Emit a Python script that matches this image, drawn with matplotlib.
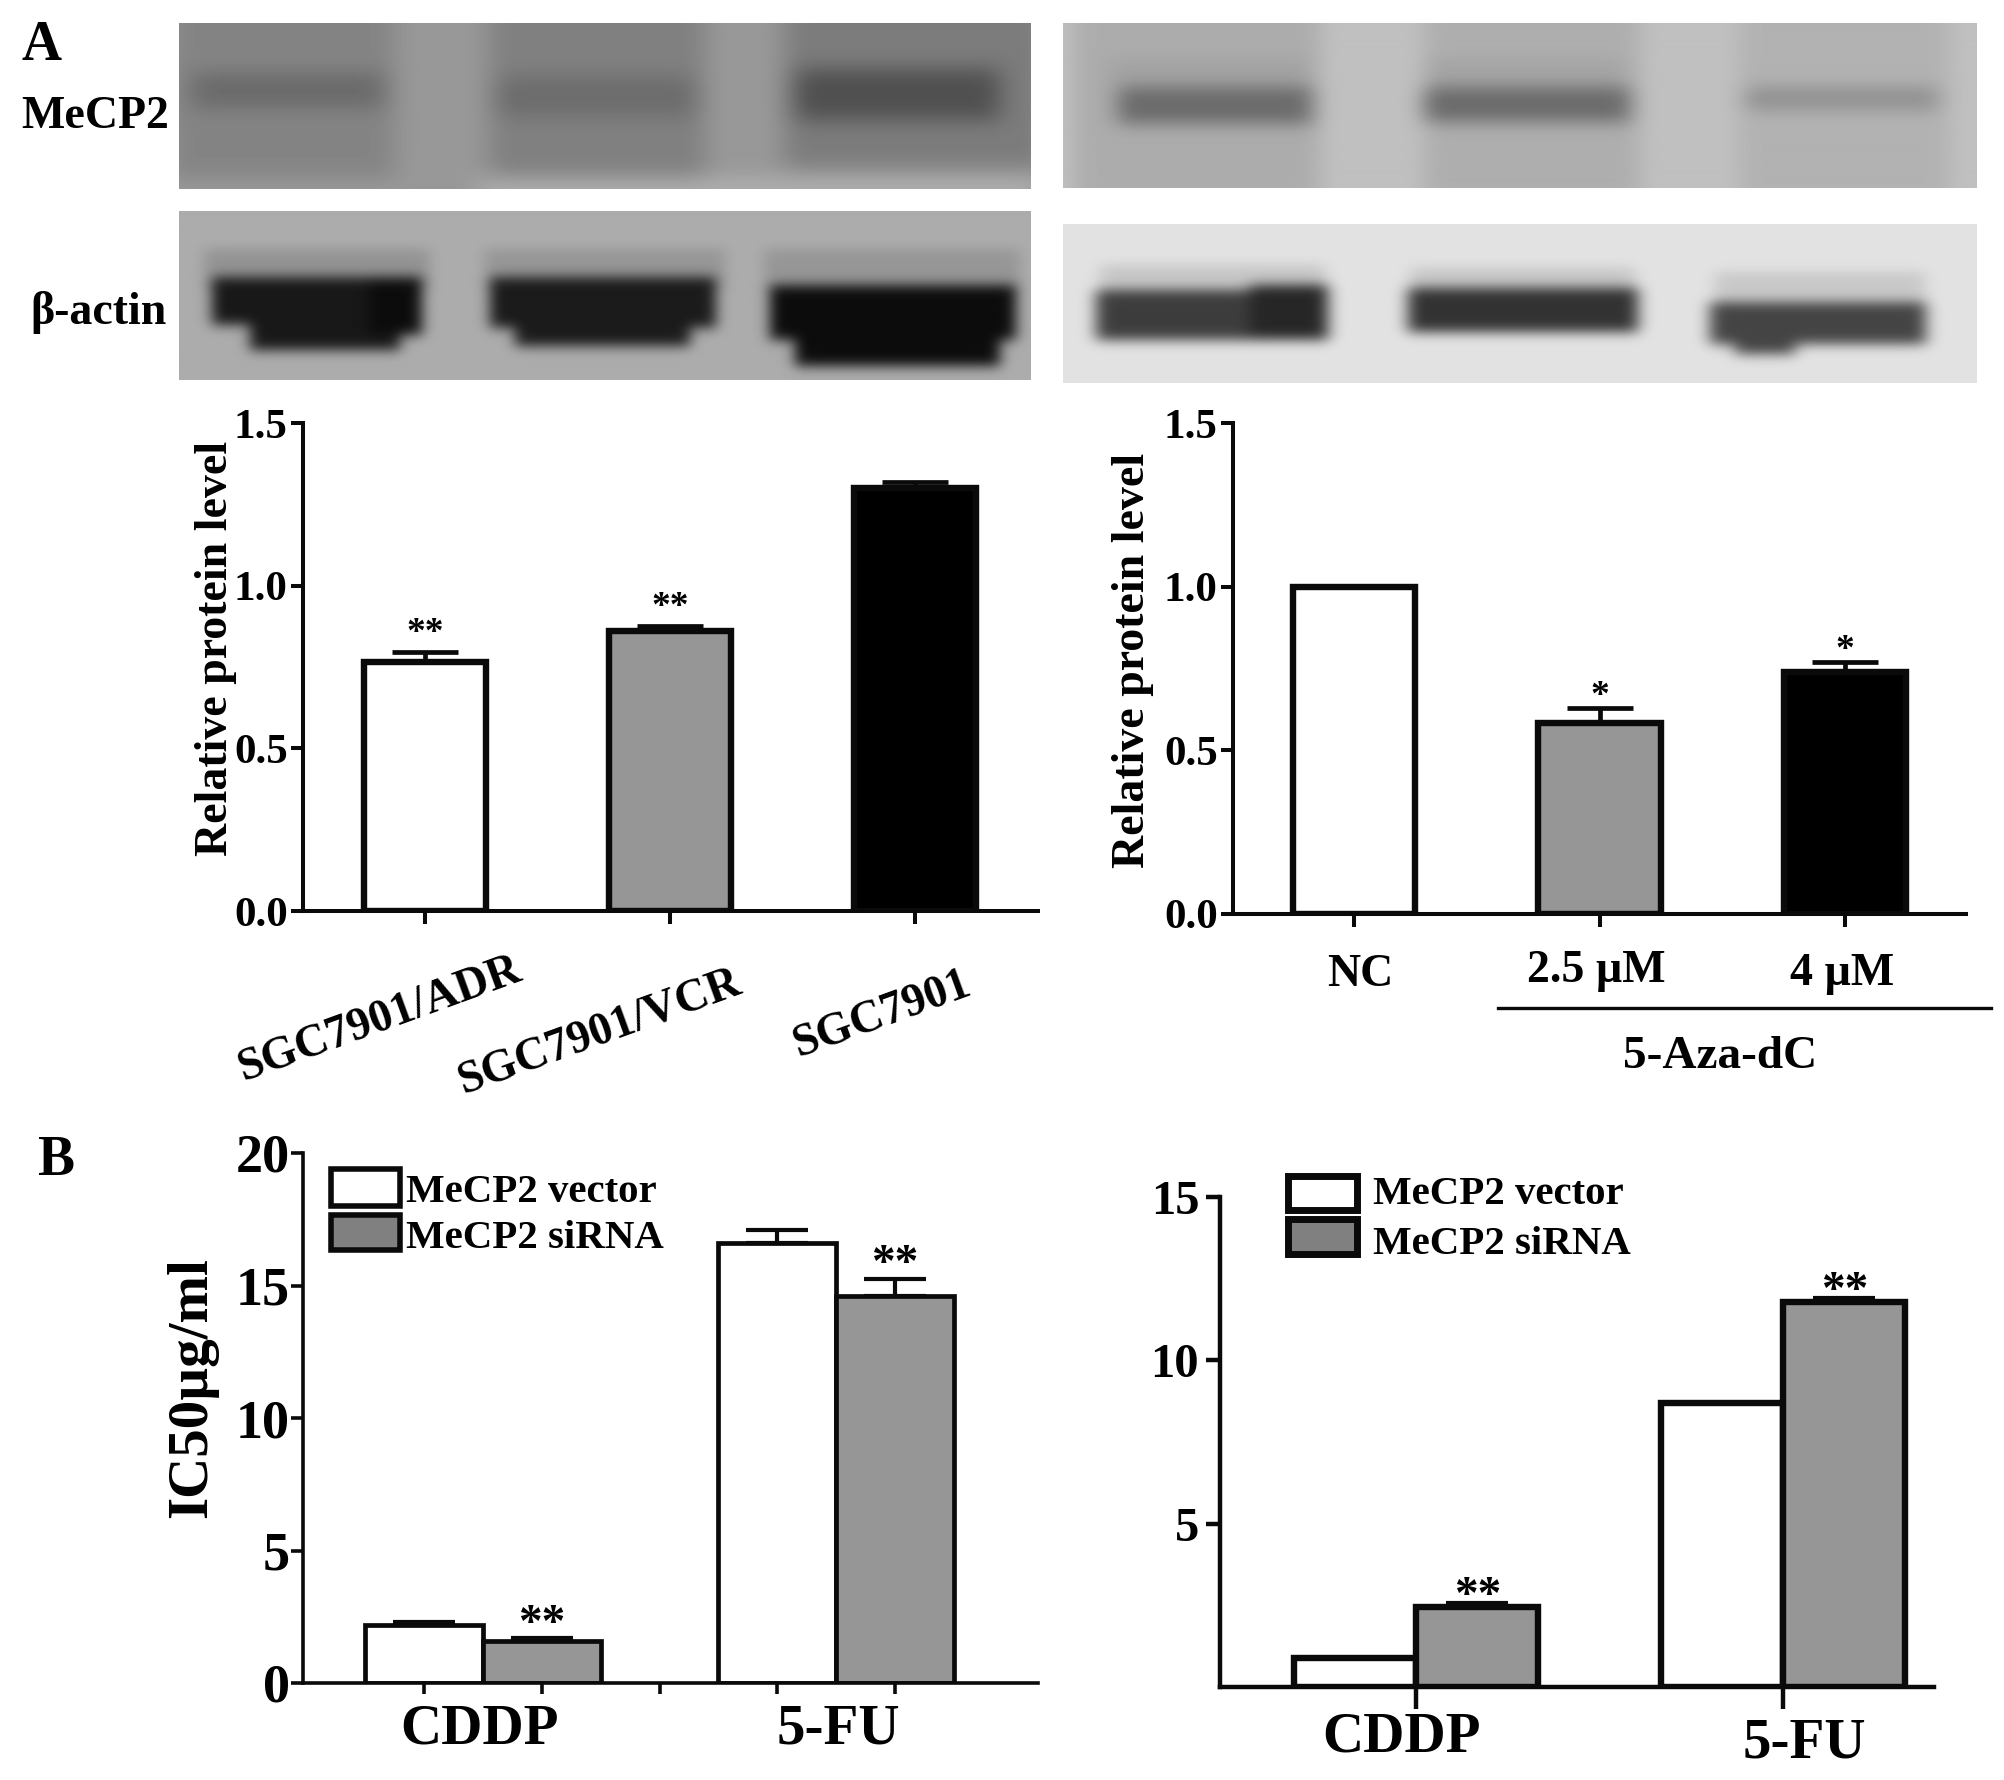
import numpy as np
import matplotlib
matplotlib.use('Agg')
import matplotlib.pyplot as plt
from matplotlib.patches import Rectangle

plt.rcParams['font.family'] = ['Liberation Serif', 'DejaVu Sans']
plt.rcParams['font.weight'] = 'bold'

W, H = 2004, 1780

# panel A
cells = ['SGC7901/ADR', 'SGC7901/VCR', 'SGC7901']
cell_level = [0.765, 0.86, 1.30]
cell_err = [0.03, 0.015, 0.02]
cell_stars = ['**', '**', '']

doses = ['NC', '2.5 µM', '4 µM']
dose_level = [1.0, 0.585, 0.74]
dose_err = [0.0, 0.045, 0.03]
dose_stars = ['', '*', '*']

# panel B
drugs = ['CDDP', '5-FU']
left_vector = [2.2, 16.6]
left_vector_err = [0.1, 0.5]
left_sirna = [1.6, 14.6]
left_sirna_err = [0.08, 0.65]
right_vector = [0.9, 8.7]
right_sirna = [2.45, 11.8]
right_sirna_err = [0.12, 0.1]

# blots: background grey, then (x0, x1, y0, y1, darkness) for the smears and bands in pixels
mecp2_left_bg = 152
mecp2_left_lanes = [(170, 395, 0, 178, 20), (490, 705, 0, 178, 24), (785, 1045, 0, 168, 28), (480, 1040, 178, 200, -25)]
mecp2_left_bands = [(192, 385, 74, 108, 46), (498, 695, 78, 116, 44), (795, 1000, 70, 120, 72)]
actin_left_bg = 172
actin_left_lanes = [(205, 430, 250, 290, 25), (485, 725, 250, 290, 22), (765, 1020, 250, 295, 22)]
actin_left_bands = [(212, 422, 278, 325, 148), (250, 400, 320, 350, 148), (370, 422, 278, 335, 160),
                    (490, 716, 278, 328, 145), (515, 690, 320, 346, 145),
                    (770, 1016, 286, 340, 160), (795, 1000, 335, 366, 160)]
mecp2_right_bg = 192
mecp2_right_lanes = [(1075, 1320, 0, 200, 20), (1425, 1640, 0, 200, 18), (1740, 1950, 0, 200, 14),
                     (1110, 1310, 60, 90, 30), (1425, 1625, 60, 90, 28)]
mecp2_right_bands = [(1118, 1312, 88, 124, 85), (1424, 1630, 88, 122, 85), (1746, 1938, 88, 110, 48)]
actin_right_bg = 226
actin_right_lanes = [(1100, 1325, 265, 295, 28), (1410, 1635, 268, 295, 28), (1715, 1925, 272, 300, 26)]
actin_right_bands = [(1096, 1328, 290, 340, 165), (1250, 1328, 285, 338, 188),
                     (1408, 1638, 288, 332, 176), (1710, 1926, 302, 344, 158), (1735, 1795, 330, 354, 158)]

GREY = '#969696'
BLACK = '#0a0a0a'

fig = plt.figure(figsize=(W / 100, H / 100), dpi=100)


def px_axes(x0, x1, ybot, ytop):
    return fig.add_axes([x0 / W, 1 - ybot / H, (x1 - x0) / W, (ybot - ytop) / H])


def soften(img, sx, sy):
    kx = np.exp(-0.5 * (np.arange(-30, 31) / sx) ** 2)
    ky = np.exp(-0.5 * (np.arange(-30, 31) / sy) ** 2)
    out = np.apply_along_axis(lambda r: np.convolve(r, kx / kx.sum(), mode='same'), 1, img)
    return np.apply_along_axis(lambda c: np.convolve(c, ky / ky.sum(), mode='same'), 0, out)


def blot(x0, x1, y0, y1, bg, lanes, bands, soft):
    # work on a padded grid so the blur has no edge effects, then crop
    pad = 60
    dark = np.zeros((y1 - y0 + 2 * pad, x1 - x0 + 2 * pad))
    for a, b, c, d, amp in lanes + bands:
        row0, row1 = max(c - y0 + pad, 0), max(d - y0 + pad, 0)
        col0, col1 = max(a - x0 + pad, 0), max(b - x0 + pad, 0)
        part = dark[row0:row1, col0:col1]
        dark[row0:row1, col0:col1] = np.maximum(part, amp) if amp > 0 else part + amp
    img = bg - soften(dark, soft[0], soft[1])[pad:-pad, pad:-pad]
    ax = px_axes(x0, x1, y1, y0)
    ax.imshow(np.clip(img, 12, 255), cmap='gray', vmin=0, vmax=255, aspect='auto')
    ax.axis('off')


blot(179, 1031, 23, 189, mecp2_left_bg, mecp2_left_lanes, mecp2_left_bands, (13, 10))
blot(179, 1031, 211, 380, actin_left_bg, actin_left_lanes, actin_left_bands, (7, 6))
blot(1063, 1977, 23, 188, mecp2_right_bg, mecp2_right_lanes, mecp2_right_bands, (11, 8))
blot(1063, 1977, 224, 383, actin_right_bg, actin_right_lanes, actin_right_bands, (8, 6))


def style(ax, lw, ticksize, ylen, xlen, pad):
    for s in ['top', 'right']:
        ax.spines[s].set_visible(False)
    for s in ['left', 'bottom']:
        ax.spines[s].set_linewidth(lw)
        ax.spines[s].set_color(BLACK)
    ax.tick_params(axis='y', width=lw, length=ylen, labelsize=ticksize, color=BLACK, pad=pad)
    ax.tick_params(axis='x', width=lw, length=xlen, color=BLACK)
    ax.patch.set_alpha(0)


def single_bars(ax, values, errs, stars, star_size, lw):
    colors = ['white', GREY, 'black']
    pos = np.arange(len(values))
    ax.bar(pos, values, width=0.5, color=colors, edgecolor=BLACK, linewidth=lw)
    for p, v, e, st in zip(pos, values, errs, stars):
        if e > 0:
            ax.errorbar(p, v, yerr=[[0], [e]], color=BLACK, capsize=24, capthick=3.4, elinewidth=3.4)
        if st:
            off = 7 if st == '**' else 1.5
            ax.annotate(st, (p, v + e), xytext=(0, off), textcoords='offset points',
                        ha='center', va='baseline', fontsize=star_size)


def pair_bars(ax, a, a_err, b, b_err, star_size, lw, star_off):
    w = 1 / 3
    pos = np.arange(len(a))
    ax.bar(pos - w / 2, a, width=w, color='white', edgecolor=BLACK, linewidth=lw)
    ax.bar(pos + w / 2, b, width=w, color=GREY, edgecolor=BLACK, linewidth=lw)
    for p, v, e in zip(pos, a, a_err):
        if e > 0:
            ax.errorbar(p - w / 2, v, yerr=[[0], [e]], color=BLACK, capsize=22, capthick=3, elinewidth=3)
    for p, v, e in zip(pos, b, b_err):
        ax.errorbar(p + w / 2, v, yerr=[[0], [e]], color=BLACK, capsize=22, capthick=3, elinewidth=3)
        ax.annotate('**', (p + w / 2, v + e), xytext=(0, star_off), textcoords='offset points',
                    ha='center', va='baseline', fontsize=star_size)


# A left
ax = px_axes(303, 1038, 911, 423)
ax.set_xlim((303 - 425) / 245.0, (1038 - 425) / 245.0)
ax.set_ylim(0, 1.5)
single_bars(ax, cell_level, cell_err, cell_stars, 27, 4.6)
ax.set_yticks([0, 0.5, 1.0, 1.5])
ax.set_yticklabels(['0.0', '0.5', '1.0', '1.5'])
ax.set_xticks(range(3))
ax.set_xticklabels([])
style(ax, 2.9, 31, 9, 9, 2)

# A right
ax = px_axes(1233, 1966, 914, 423)
ax.set_xlim((1233 - 1354) / 245.5, (1966 - 1354) / 245.5)
ax.set_ylim(0, 1.5)
single_bars(ax, dose_level, dose_err, dose_stars, 27, 4.6)
ax.set_yticks([0, 0.5, 1.0, 1.5])
ax.set_yticklabels(['0.0', '0.5', '1.0', '1.5'])
ax.set_xticks(range(3))
ax.set_xticklabels([])
style(ax, 2.9, 31, 9, 9, 2)

# B left
ax = px_axes(303, 1038, 1683, 1153)
ax.set_xlim((303 - 483) / 353.0, (1038 - 483) / 353.0)
ax.set_ylim(0, 20)
pair_bars(ax, left_vector, left_vector_err, left_sirna, left_sirna_err, 34, 3.4, 2)
ax.set_yticks([0, 5, 10, 15, 20])
ax.set_xticks([-1 / 6 + i / 3 for i in range(5)])
ax.set_xticklabels([])
style(ax, 2.6, 39, 8.5, 8, 1)

# B right
ax = px_axes(1220, 1934, 1687, 1197)
ax.set_xlim((1220 - 1416) / 367.0, (1934 - 1416) / 367.0)
ax.set_ylim(0, 15)
pair_bars(ax, right_vector, [0, 0], right_sirna, right_sirna_err, 34, 4.6, -3.5)
ax.set_yticks([5, 10, 15])
ax.set_xticks([0, 1])
ax.set_xticklabels([])
style(ax, 3.2, 35, 10, 16, 5)

# overlay in pixel coordinates for labels, legends and the dose bracket
ov = fig.add_axes([0, 0, 1, 1])
ov.set_xlim(0, W)
ov.set_ylim(H, 0)
ov.axis('off')
ov.patch.set_alpha(0)


def label(x, y, s, size, rot=0):
    ov.text(x, y + 4, s, fontsize=size, rotation=rot, ha='center', va='center', rotation_mode='anchor')


label(42, 42, 'A', 40)
label(56, 1157, 'B', 40)
label(95, 113, 'MeCP2', 33)
label(99, 308, 'β-actin', 33)
label(216, 644, 'Relative protein level', 33, 90)
label(1133, 656, 'Relative protein level', 33, 90)
label(192, 1384, 'IC50µg/ml', 41, 90)

for name, x, y in zip(cells, [380, 600, 882], [1016, 1028, 1011]):
    label(x, y, name, 33, 20)
for name, x, y in zip(doses, [1360, 1596, 1842], [971, 967, 970]):
    label(x, y, name, 33)
ov.plot([1498, 1991], [1008, 1008], color=BLACK, lw=2.4)
label(1720, 1053, '5-Aza-dC', 34)

for name, x in zip(drugs, [480, 838]):
    label(x, 1726, name, 41)
for name, x in zip(drugs, [1402, 1804]):
    label(x, 1733 if name == 'CDDP' else 1739, name, 41)

legend_names = ['MeCP2 vector', 'MeCP2 siRNA']
legend_fill = ['white', '#808080']
for (bx, bw, tops, hs, tx, tys, lw) in [
        (331, 69, [1169, 1215], [37, 35], 406, [1190, 1236], 4),
        (1288, 69, [1176, 1219], [34, 35], 1373, [1191, 1242], 5)]:
    for name, fill, t, h_, ty in zip(legend_names, legend_fill, tops, hs, tys):
        ov.add_patch(Rectangle((bx, t), bw, h_, facecolor=fill, edgecolor=BLACK, linewidth=lw))
        ov.text(tx, ty + 3, name, fontsize=29.4, ha='left', va='center')

fig.savefig('out.png', dpi=100)
plt.close(fig)
